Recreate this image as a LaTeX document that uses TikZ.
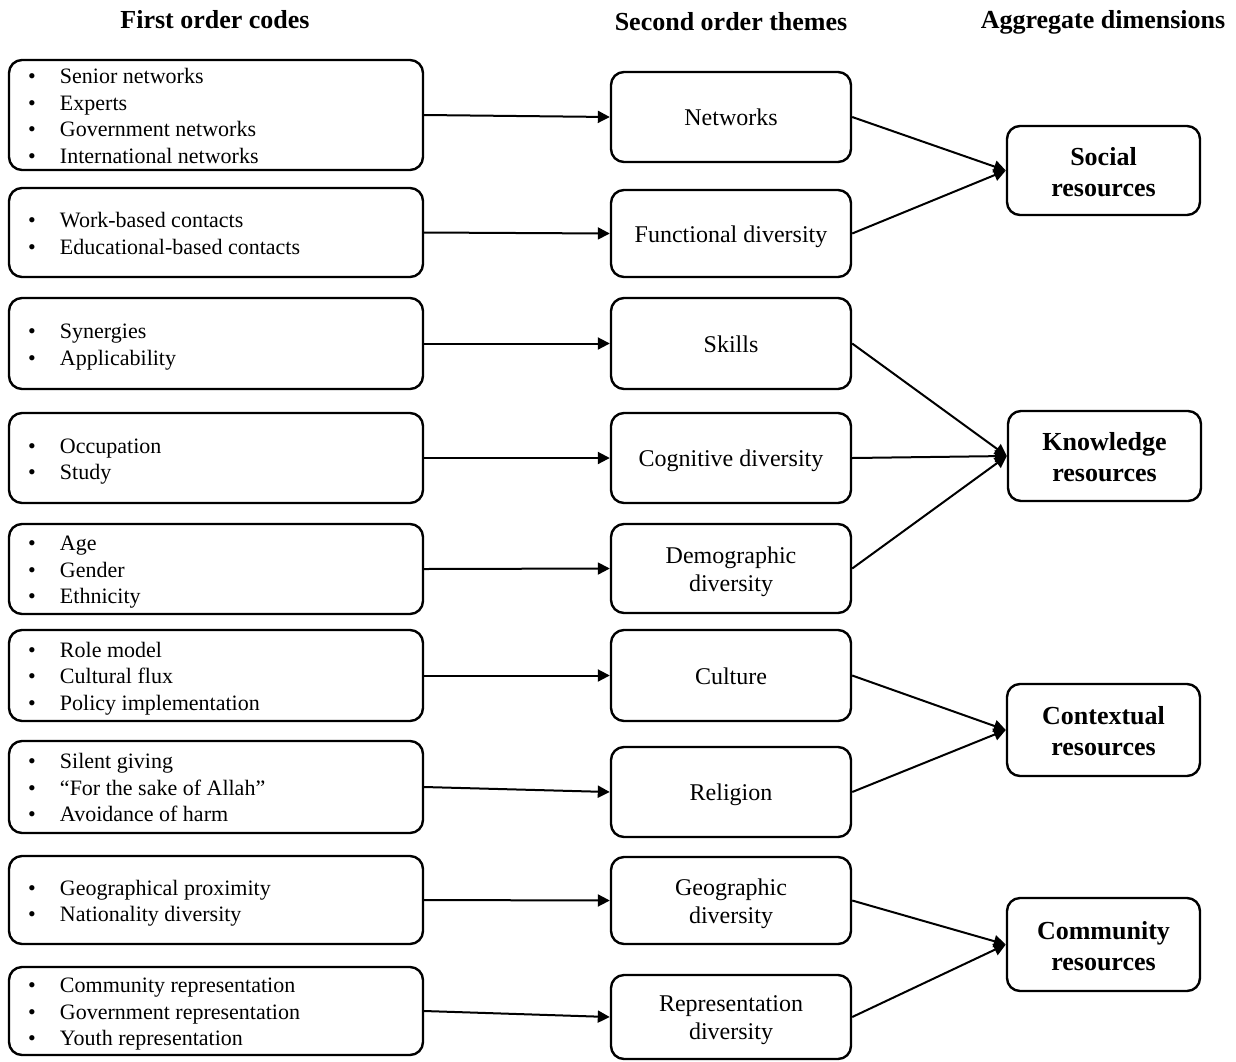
\documentclass[tikz,border=0pt]{standalone}
\usepackage{fontspec}
\setmainfont{Liberation Serif}
\usetikzlibrary{arrows.meta}
% one bulleted line inside a code box
\newcommand\codeline[1]{\strut\makebox[32pt][l]{\textbullet}#1}
% text blocks, set a little low inside their boxes
\newcommand\codes[1]{\raisebox{-3pt}[\height][\depth]{\parbox{376pt}{\raggedright #1}}}
\newcommand\themetext[1]{\raisebox{-3pt}[\height][\depth]{\begin{tabular}{@{}c@{}}#1\end{tabular}}}
\newcommand\dimtext[1]{\raisebox{-4pt}[\height][\depth]{\begin{tabular}{@{}c@{}}#1\end{tabular}}}
\begin{document}
\begin{tikzpicture}[x=1pt,y=-1pt,
  box/.style={draw, line width=2.4pt, rounded corners=13pt, inner sep=0pt},
  codebox/.style={box, minimum width=414pt, font=\fontsize{22}{26.5}\selectfont},
  themebox/.style={box, minimum width=240pt, font=\fontsize{24}{28}\selectfont},
  dimbox/.style={box, minimum width=193pt, font=\bfseries\fontsize{26}{31}\selectfont},
  header/.style={font=\bfseries\fontsize{26}{31}\selectfont, inner sep=0pt},
  conn/.style={line width=2pt, -{Triangle[length=12pt,width=12pt]}}
]
\useasboundingbox (0,0) rectangle (1236,1061);

% column headings
\node[header] (h1) at (215,20) {First order codes};
\node[header] (h2) at (731,22) {Second order themes};
\node[header] (h3) at (1103,22) {Aggregate dimensions};

% first order codes
\node[codebox, minimum height=110pt] (c1) at (216,115)
  {\codes{\codeline{Senior networks}\\\codeline{Experts}\\\codeline{Government networks}\\\codeline{International networks}}};
\node[codebox, minimum height=89pt] (c2) at (216,232.5)
  {\codes{\codeline{Work-based contacts}\\\codeline{Educational-based contacts}}};
\node[codebox, minimum height=91pt] (c3) at (216,343.5)
  {\codes{\codeline{Synergies}\\\codeline{Applicability}}};
\node[codebox, minimum height=90pt] (c4) at (216,458)
  {\codes{\codeline{Occupation}\\\codeline{Study}}};
\node[codebox, minimum height=90pt] (c5) at (216,569)
  {\codes{\codeline{Age}\\\codeline{Gender}\\\codeline{Ethnicity}}};
\node[codebox, minimum height=91pt] (c6) at (216,675.5)
  {\codes{\codeline{Role model}\\\codeline{Cultural flux}\\\codeline{Policy implementation}}};
\node[codebox, minimum height=92pt] (c7) at (216,787)
  {\codes{\codeline{Silent giving}\\\codeline{“For the sake of Allah”}\\\codeline{Avoidance of harm}}};
\node[codebox, minimum height=88pt] (c8) at (216,900)
  {\codes{\codeline{Geographical proximity}\\\codeline{Nationality diversity}}};
\node[codebox, minimum height=88pt] (c9) at (216,1011)
  {\codes{\codeline{Community representation}\\\codeline{Government representation}\\\codeline{Youth representation}}};

% second order themes
\node[themebox, minimum height=90pt] (t1) at (731,117) {\themetext{Networks}};
\node[themebox, minimum height=87pt] (t2) at (731,233.5) {\themetext{Functional diversity}};
\node[themebox, minimum height=91pt] (t3) at (731,343.5) {\themetext{Skills}};
\node[themebox, minimum height=90pt] (t4) at (731,458) {\themetext{Cognitive diversity}};
\node[themebox, minimum height=89pt] (t5) at (731,568.5) {\themetext{Demographic\\diversity}};
\node[themebox, minimum height=91pt] (t6) at (731,675.5) {\themetext{Culture}};
\node[themebox, minimum height=90pt] (t7) at (731,792) {\themetext{Religion}};
\node[themebox, minimum height=87pt] (t8) at (731,900.5) {\themetext{Geographic\\diversity}};
\node[themebox, minimum height=84pt] (t9) at (731,1017) {\themetext{Representation\\diversity}};

% aggregate dimensions
\node[dimbox, minimum height=89pt] (d1) at (1103.5,170.5) {\dimtext{Social\\resources}};
\node[dimbox, minimum height=90pt] (d2) at (1104.5,456) {\dimtext{Knowledge\\resources}};
\node[dimbox, minimum height=92pt] (d3) at (1103.5,730) {\dimtext{Contextual\\resources}};
\node[dimbox, minimum height=93pt] (d4) at (1103.5,944.5) {\dimtext{Community\\resources}};

% codes to themes
\foreach \i in {1,...,9} \draw[conn] (c\i.east) -- (t\i.west);

% themes to dimensions
\draw[conn] (t1.east) -- (d1.west);
\draw[conn] (t2.east) -- (d1.west);
\draw[conn] (t3.east) -- (d2.west);
\draw[conn] (t4.east) -- (d2.west);
\draw[conn] (t5.east) -- (d2.west);
\draw[conn] (t6.east) -- (d3.west);
\draw[conn] (t7.east) -- (d3.west);
\draw[conn] (t8.east) -- (d4.west);
\draw[conn] (t9.east) -- (d4.west);
\end{tikzpicture}
\end{document}
